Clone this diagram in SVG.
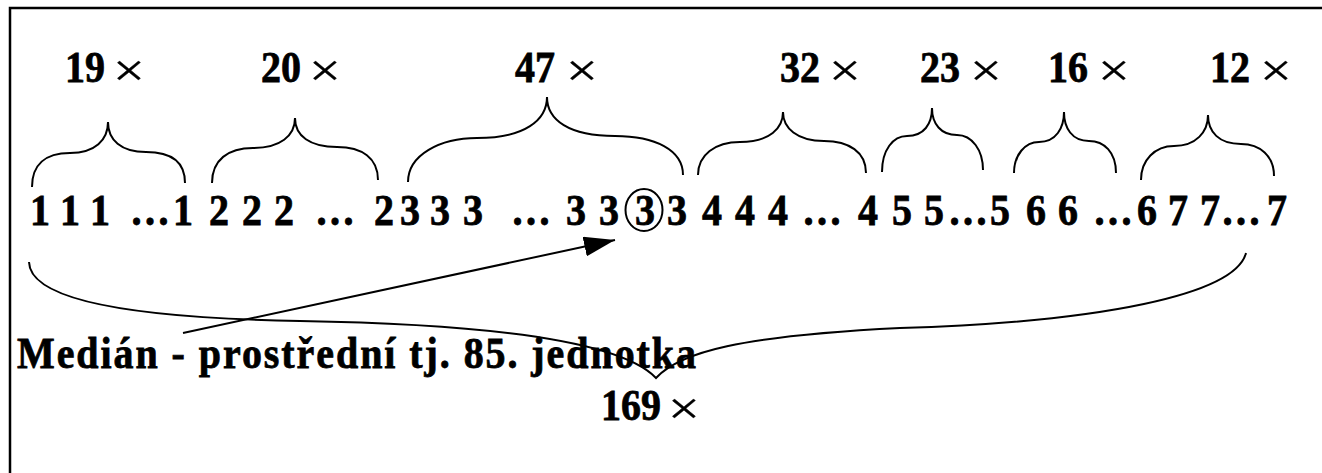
<svg xmlns="http://www.w3.org/2000/svg" width="1322" height="473" viewBox="0 0 1322 473">
<style>
.num{font-family:"Liberation Serif","Times New Roman",serif;font-weight:bold;font-size:40px;fill:#000;stroke:#000;stroke-width:0.7}
.mul{font-family:"Liberation Serif","Times New Roman",serif;font-weight:normal;font-size:47px;fill:#000;stroke:#000;stroke-width:0.3;text-anchor:middle}
.lbl{font-family:"Liberation Serif","Times New Roman",serif;font-weight:bold;font-size:40px;fill:#000;stroke:#000;stroke-width:0.7}
.br{fill:none;stroke:#000;stroke-width:2}
</style>
<defs>
<marker id="ah" markerUnits="userSpaceOnUse" markerWidth="34" markerHeight="22" refX="31" refY="10" orient="auto">
<path d="M0,0 L31,10 L0,20 z" fill="#000"/>
</marker>
</defs>
<rect x="0" y="0" width="1322" height="473" fill="#fff"/>
<g id="frame" fill="none" stroke="#000" stroke-width="2.5">
<path d="M10,473 L10,8 L1322,8"/>
</g>
<g id="labels">
<g id="n19"><text class="num" text-anchor="middle" transform="translate(85 82) scale(1 1.12)">19</text><text class="mul" transform="translate(129 86) scale(1.2 1)">×</text></g>
<g id="n20"><text class="num" text-anchor="middle" transform="translate(281 82) scale(1 1.12)">20</text><text class="mul" transform="translate(325 86) scale(1.2 1)">×</text></g>
<g id="n47"><text class="num" text-anchor="middle" transform="translate(535 82) scale(1 1.12)">47</text><text class="mul" transform="translate(582 86) scale(1.2 1)">×</text></g>
<g id="n32"><text class="num" text-anchor="middle" transform="translate(800 82) scale(1 1.12)">32</text><text class="mul" transform="translate(845 86) scale(1.2 1)">×</text></g>
<g id="n23"><text class="num" text-anchor="middle" transform="translate(940 82) scale(1 1.12)">23</text><text class="mul" transform="translate(986 86) scale(1.2 1)">×</text></g>
<g id="n16"><text class="num" text-anchor="middle" transform="translate(1068 82) scale(1 1.12)">16</text><text class="mul" transform="translate(1114 86) scale(1.2 1)">×</text></g>
<g id="n12"><text class="num" text-anchor="middle" transform="translate(1230 82) scale(1 1.12)">12</text><text class="mul" transform="translate(1276 86) scale(1.2 1)">×</text></g>
</g>
<g id="braces" class="br">
<path d="M32,187 C32,165 45,153 70,153 C95,153 108,140 108,122 C108,140 121,152 146,152 C171,152 185,162 185,183"/>
<path d="M212,183 C212,160 228,148 253,148 C280,148 295,136 295,118 C295,136 310,147 337,147 C362,147 378,158 378,180"/>
<path d="M408,182 C408,155 440,138 477,138 C525,138 547,120 547,97 C547,120 569,136 615,136 C655,136 683,150 683,175"/>
<path d="M698,175 C698,155 715,142 740,142 C770,142 783,128 783,112 C783,128 797,141 824,141 C849,141 866,152 866,173"/>
<path d="M882,172 C882,150 893,136 907,136 C924,136 932,124 932,108 C932,124 941,135 957,135 C972,135 983,150 983,170"/>
<path d="M1014,173 C1014,155 1025,142 1039,142 C1056,142 1064,128 1064,112 C1064,128 1072,141 1089,141 C1104,141 1116,152 1116,173"/>
<path d="M1141,180 C1141,160 1155,146 1174,146 C1196,146 1208,132 1208,115 C1208,132 1219,144 1241,144 C1260,144 1274,156 1274,176"/>
</g>
<g id="sequence">
<g transform="translate(0 -27) scale(1 1.12)">
<text class="num" text-anchor="middle" y="225" x="40 55 70 85 100 125 150 183 200 219 235 252 268 284 310 335 360 384 397 410 425 440 456 473 500 531 553 576 592 609">1 1 1 …1 2 2 2 … 2 3 3 3 … 3 3</text>
<text class="num" text-anchor="middle" x="645" y="225">3</text>
<text class="num" text-anchor="middle" y="225" x="677 695 712 728 745 762 778 800 822 845 868 885 902 918 934 968 1000 1018 1036 1052 1068 1090 1113 1147 1162 1178 1194 1210 1241 1277">3 4 4 4 … 4 5 5…5 6 6 …6 7 7…7</text>
</g>
<ellipse id="median" cx="644" cy="210" rx="18.5" ry="21" fill="none" stroke="#000" stroke-width="2"/>
</g>
<g id="connectors" fill="none" stroke="#000" stroke-width="2">
<path id="total-brace" d="M29,262 C30,300 130,318 300,321 C480,324 620,340 656,378 C680,352 740,336 900,328 C1100,322 1235,295 1246,253"/>
<line id="arrow" x1="183" y1="333" x2="615" y2="240" marker-end="url(#ah)"/>
</g>
<g id="caption" transform="translate(0 -44.16) scale(1 1.12)">
<text class="lbl" x="17" y="368" textLength="679" lengthAdjust="spacing">Medián - prostřední tj. 85. jednotka</text>
</g>
<g id="total">
<text class="num" text-anchor="middle" transform="translate(631 420) scale(1 1.12)">169</text><text class="mul" transform="translate(684 424) scale(1.2 1)">×</text>
</g>
</svg>
